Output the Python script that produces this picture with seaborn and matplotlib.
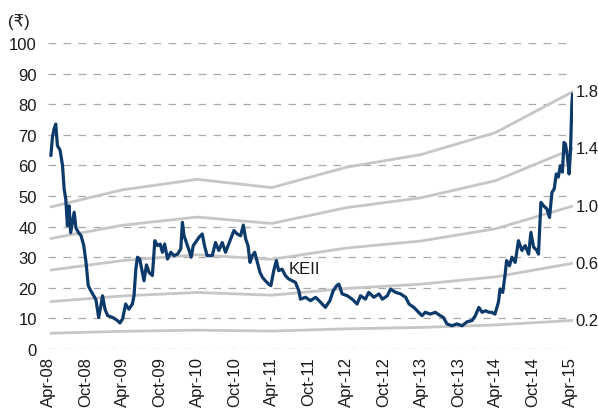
import matplotlib
matplotlib.use("Agg")
import matplotlib.pyplot as plt
import matplotlib.dates as mdates
import seaborn as sns
import pandas as pd

# ---- data ----
price_dates = [
    "2008-04-15", "2008-04-23", "2008-05-01", "2008-05-09", "2008-05-17", "2008-05-30",
    "2008-06-11", "2008-06-19", "2008-06-27", "2008-07-05", "2008-07-13", "2008-07-21",
    "2008-08-07", "2008-08-16", "2008-08-27", "2008-09-10", "2008-09-23", "2008-10-04",
    "2008-10-15", "2008-10-28", "2008-11-11", "2008-11-22", "2008-12-05", "2008-12-16",
    "2008-12-24", "2009-01-05", "2009-01-18", "2009-02-12", "2009-03-07", "2009-03-19",
    "2009-04-01", "2009-04-16", "2009-05-02", "2009-05-19", "2009-05-27", "2009-06-05",
    "2009-06-13", "2009-06-24", "2009-07-07", "2009-07-15", "2009-07-27", "2009-08-09",
    "2009-08-25", "2009-09-06", "2009-09-19", "2009-10-02", "2009-10-13", "2009-10-24",
    "2009-11-07", "2009-11-23", "2009-12-09", "2009-12-26", "2010-01-11", "2010-01-19",
    "2010-01-27", "2010-02-10", "2010-02-21", "2010-03-03", "2010-03-13", "2010-03-24",
    "2010-04-10", "2010-04-26", "2010-05-07", "2010-05-20", "2010-06-14", "2010-06-30",
    "2010-07-16", "2010-08-02", "2010-08-18", "2010-09-12", "2010-09-28", "2010-10-14",
    "2010-10-31", "2010-11-13", "2010-11-25", "2010-12-06", "2010-12-16", "2010-12-27",
    "2011-01-08", "2011-01-21", "2011-02-03", "2011-02-15", "2011-03-01", "2011-03-17",
    "2011-03-28", "2011-04-11", "2011-04-24", "2011-05-05", "2011-05-22", "2011-06-07",
    "2011-06-23", "2011-07-10", "2011-07-26", "2011-08-12", "2011-08-20", "2011-09-14",
    "2011-10-08", "2011-11-02", "2011-11-26", "2011-12-20", "2012-01-11", "2012-01-27",
    "2012-02-13", "2012-02-24", "2012-03-11", "2012-04-05", "2012-04-29", "2012-05-23",
    "2012-06-09", "2012-07-03", "2012-07-19", "2012-08-13", "2012-09-07", "2012-09-24",
    "2012-10-18", "2012-11-03", "2012-11-28", "2012-12-22", "2013-01-16", "2013-02-01",
    "2013-02-25", "2013-03-20", "2013-04-06", "2013-04-22", "2013-05-16", "2013-06-10",
    "2013-07-04", "2013-07-20", "2013-08-06", "2013-08-30", "2013-09-24", "2013-10-19",
    "2013-11-13", "2013-12-07", "2013-12-23", "2014-01-09", "2014-01-25", "2014-02-11",
    "2014-02-27", "2014-03-13", "2014-03-29", "2014-04-15", "2014-04-23", "2014-05-06",
    "2014-05-17", "2014-05-25", "2014-06-08", "2014-06-20", "2014-07-06", "2014-07-22",
    "2014-08-08", "2014-08-24", "2014-09-10", "2014-09-21", "2014-10-04", "2014-10-20",
    "2014-10-28", "2014-11-09", "2014-11-22", "2014-12-08", "2014-12-21", "2015-01-02",
    "2015-01-13", "2015-01-23", "2015-02-02", "2015-02-12", "2015-02-22", "2015-03-02",
    "2015-03-09", "2015-03-18", "2015-03-27", "2015-04-03", "2015-04-09", "2015-04-13",
]
price_values = [
    63.2, 69.3, 72.0, 73.5, 66.5, 65.0,
    60.0, 52.3, 49.0, 40.3, 46.8, 38.0,
    44.7, 39.5, 38.2, 37.0, 33.8, 28.4,
    20.7, 19.0, 17.4, 16.0, 10.3, 14.2,
    17.4, 13.0, 10.9, 10.3, 9.3, 8.5,
    9.8, 14.7, 13.0, 14.7, 17.4, 26.1,
    30.0, 29.4, 25.0, 22.3, 27.5, 25.0,
    24.0, 35.4, 33.8, 34.3, 31.6, 34.3,
    29.4, 31.6, 30.5, 31.0, 32.7, 41.4,
    37.0, 34.3, 32.2, 30.0, 33.8, 34.8,
    36.5, 37.6, 33.8, 30.5, 30.5, 34.8,
    32.2, 34.8, 31.6, 35.9, 38.7, 37.6,
    37.0, 40.5, 35.9, 33.8, 28.3, 30.5,
    31.6, 28.3, 25.0, 23.4, 22.3, 21.2,
    20.7, 25.6, 28.9, 25.6, 26.1, 24.0,
    22.9, 22.3, 21.8, 19.0, 16.3, 16.9,
    15.8, 16.9, 15.3, 13.6, 15.8, 19.0,
    20.7, 21.2, 18.0, 17.4, 16.3, 14.7,
    17.4, 16.3, 18.5, 16.9, 18.0, 16.3,
    17.4, 19.6, 18.5, 18.0, 16.9, 14.7,
    13.6, 12.0, 10.9, 12.0, 11.4, 12.0,
    10.9, 10.3, 8.2, 7.6, 8.2, 7.6,
    8.9, 9.3, 10.9, 13.6, 12.0, 12.5,
    12.0, 12.0, 11.4, 15.3, 19.6, 18.5,
    24.0, 28.9, 27.2, 30.0, 28.3, 35.4,
    32.2, 33.8, 31.0, 38.1, 33.3, 32.2,
    31.0, 47.9, 46.8, 45.8, 43.0, 51.2,
    52.3, 57.2, 56.2, 59.9, 57.8, 67.5,
    67.0, 63.2, 57.2, 65.0, 79.5, 83.3,
]

band_dates = ["2008-04-15", "2009-04-01", "2010-04-01", "2011-04-01",
              "2012-04-01", "2013-04-01", "2014-04-01", "2015-04-13"]
book_value = [25.8, 28.9, 30.8, 29.3, 33.0, 35.3, 39.3, 46.7]
multiples = [0.2, 0.6, 1.0, 1.4, 1.8]
multiple_labels = ["0.2", "0.6", "1.0", "1.4", "1.8"]
series_name = "KEII"
y_ticks = list(range(0, 101, 10))
unit_label = "(₹)"

# ---- tables ----
price = pd.DataFrame({"date": pd.to_datetime(price_dates), "price": price_values})
rows = []
for m, lab in zip(multiples, multiple_labels):
    for d, bv in zip(band_dates, book_value):
        rows.append({"date": pd.Timestamp(d), "value": m * bv, "band": lab})
bands = pd.DataFrame(rows)

# ---- style ----
sns.set_theme(style="white")
plt.rcParams['font.family'] = ['Liberation Sans', 'DejaVu Sans']
FS = 12
TXT = "#1a1a1a"

W, H = 598, 414
fig = plt.figure(figsize=(W / 100, H / 100), dpi=100)
L, R, T, B = 48, 573, 44, 350
ax = fig.add_axes([L / W, 1 - B / H, (R - L) / W, (B - T) / H])

sns.lineplot(data=bands, x="date", y="value", units="band", estimator=None,
             color="#c6c6c6", lw=2.0, ax=ax, legend=False)
sns.lineplot(data=price, x="date", y="price", color="#0b3a6b", lw=2.3, ax=ax,
             legend=False)

ax.set_ylim(0, 100)
ax.set_xlim(pd.Timestamp("2008-04-01"), pd.Timestamp("2015-04-15"))
ax.set_yticks(y_ticks)
ax.xaxis.set_major_locator(mdates.MonthLocator(bymonth=[4, 10], bymonthday=1))
ax.xaxis.set_major_formatter(mdates.DateFormatter("%b-%y"))
ax.tick_params(axis="x", rotation=90, length=0, pad=5, labelsize=FS, labelcolor=TXT)
ax.tick_params(axis="y", length=0, pad=8, labelsize=FS, labelcolor=TXT)
ax.set_xlabel("")
ax.set_ylabel("")
for s in ax.spines.values():
    s.set_visible(False)
ax.grid(False)
for yv in y_ticks:
    ax.axhline(yv, color="#a8a8a8", lw=0.9, dashes=(6, 6), zorder=0)

# band labels at right end
last_date = pd.Timestamp(band_dates[-1])
for m, lab in zip(multiples, multiple_labels):
    ax.annotate(lab, xy=(last_date, m * book_value[-1]), xytext=(2, 0),
                textcoords="offset points", ha="left", va="center",
                fontsize=FS, color=TXT, annotation_clip=False)

ax.text(pd.Timestamp("2011-06-22"), 26.3, series_name, ha="left", va="center",
        fontsize=FS, color=TXT)
fig.text(8 / W, 1 - 22 / H, unit_label, ha="left", va="center", fontsize=FS,
         color=TXT)

fig.savefig("out.png", dpi=100)
